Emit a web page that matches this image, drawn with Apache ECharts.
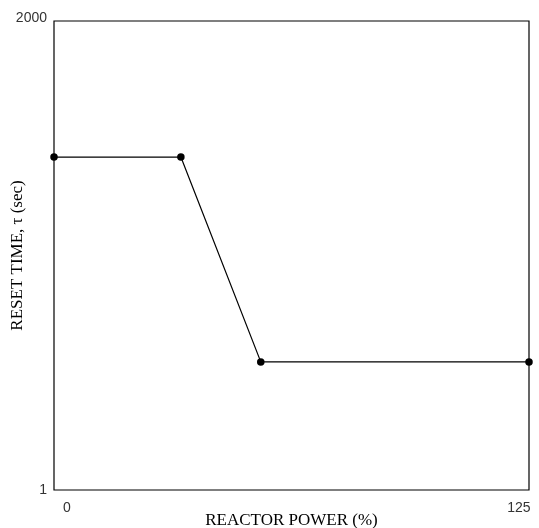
<!DOCTYPE html>
<html>
<head>
<meta charset="utf-8">
<script src="https://cdn.jsdelivr.net/npm/echarts@6/dist/echarts.min.js"></script>
<style>html,body{margin:0;padding:0;background:#fff}#c{width:539px;height:528px}</style>
</head>
<body>
<div id="c"></div>
<script>
// Data
const powerPct = [-3.6, 31.5, 53.6, 127.8];
const resetTime = [1420, 1420, 547, 547];
const xTicks = [0, 125];
const yTicks = [1, 2000];
const xAxisName = 'REACTOR POWER (%)';
const yAxisName = 'RESET TIME, τ (sec)';

const chart = echarts.init(document.getElementById('c'), null, {renderer: 'canvas'});
chart.setOption({
  animation: false,
  backgroundColor: '#fff',
  grid: {left: 54, right: 10, top: 21, bottom: 38, containLabel: false, outerBoundsMode: 'none',
         show: true, borderColor: '#000', borderWidth: 1.2, backgroundColor: 'transparent'},
  xAxis: {
    type: 'value', min: -3.6, max: 127.8,
    name: xAxisName, nameLocation: 'middle', nameGap: 22, nameMoveOverlap: false,
    nameTextStyle: {fontFamily: 'Liberation Serif', fontSize: 17, color: '#000'},
    axisLine: {show: false}, axisTick: {show: false}, splitLine: {show: false},
    axisLabel: {customValues: xTicks, formatter: v => String(v), fontFamily: 'Liberation Sans', fontSize: 14, color: '#333', margin: 11}
  },
  yAxis: {
    type: 'value', min: 1, max: 2000,
    name: yAxisName, nameLocation: 'middle', nameGap: 28, nameMoveOverlap: false,
    nameTextStyle: {fontFamily: 'Liberation Serif', fontSize: 17, color: '#000'},
    axisLine: {show: false}, axisTick: {show: false}, splitLine: {show: false},
    axisLabel: {
      customValues: yTicks,
      formatter: v => v === yTicks[1] ? '{top|' + v + '}' : String(v),
      rich: {top: {fontFamily: 'Liberation Sans', fontSize: 14, color: '#333', padding: [0, 0, 6, 0]}},
      fontFamily: 'Liberation Sans', fontSize: 14, color: '#333', margin: 7
    }
  },
  series: [{
    type: 'line',
    data: powerPct.map((x, i) => [x, resetTime[i]]),
    clip: false,
    symbol: 'circle', symbolSize: 7.5,
    itemStyle: {color: '#000'},
    lineStyle: {color: '#000', width: 1.2}
  }]
});
</script>
</body>
</html>
